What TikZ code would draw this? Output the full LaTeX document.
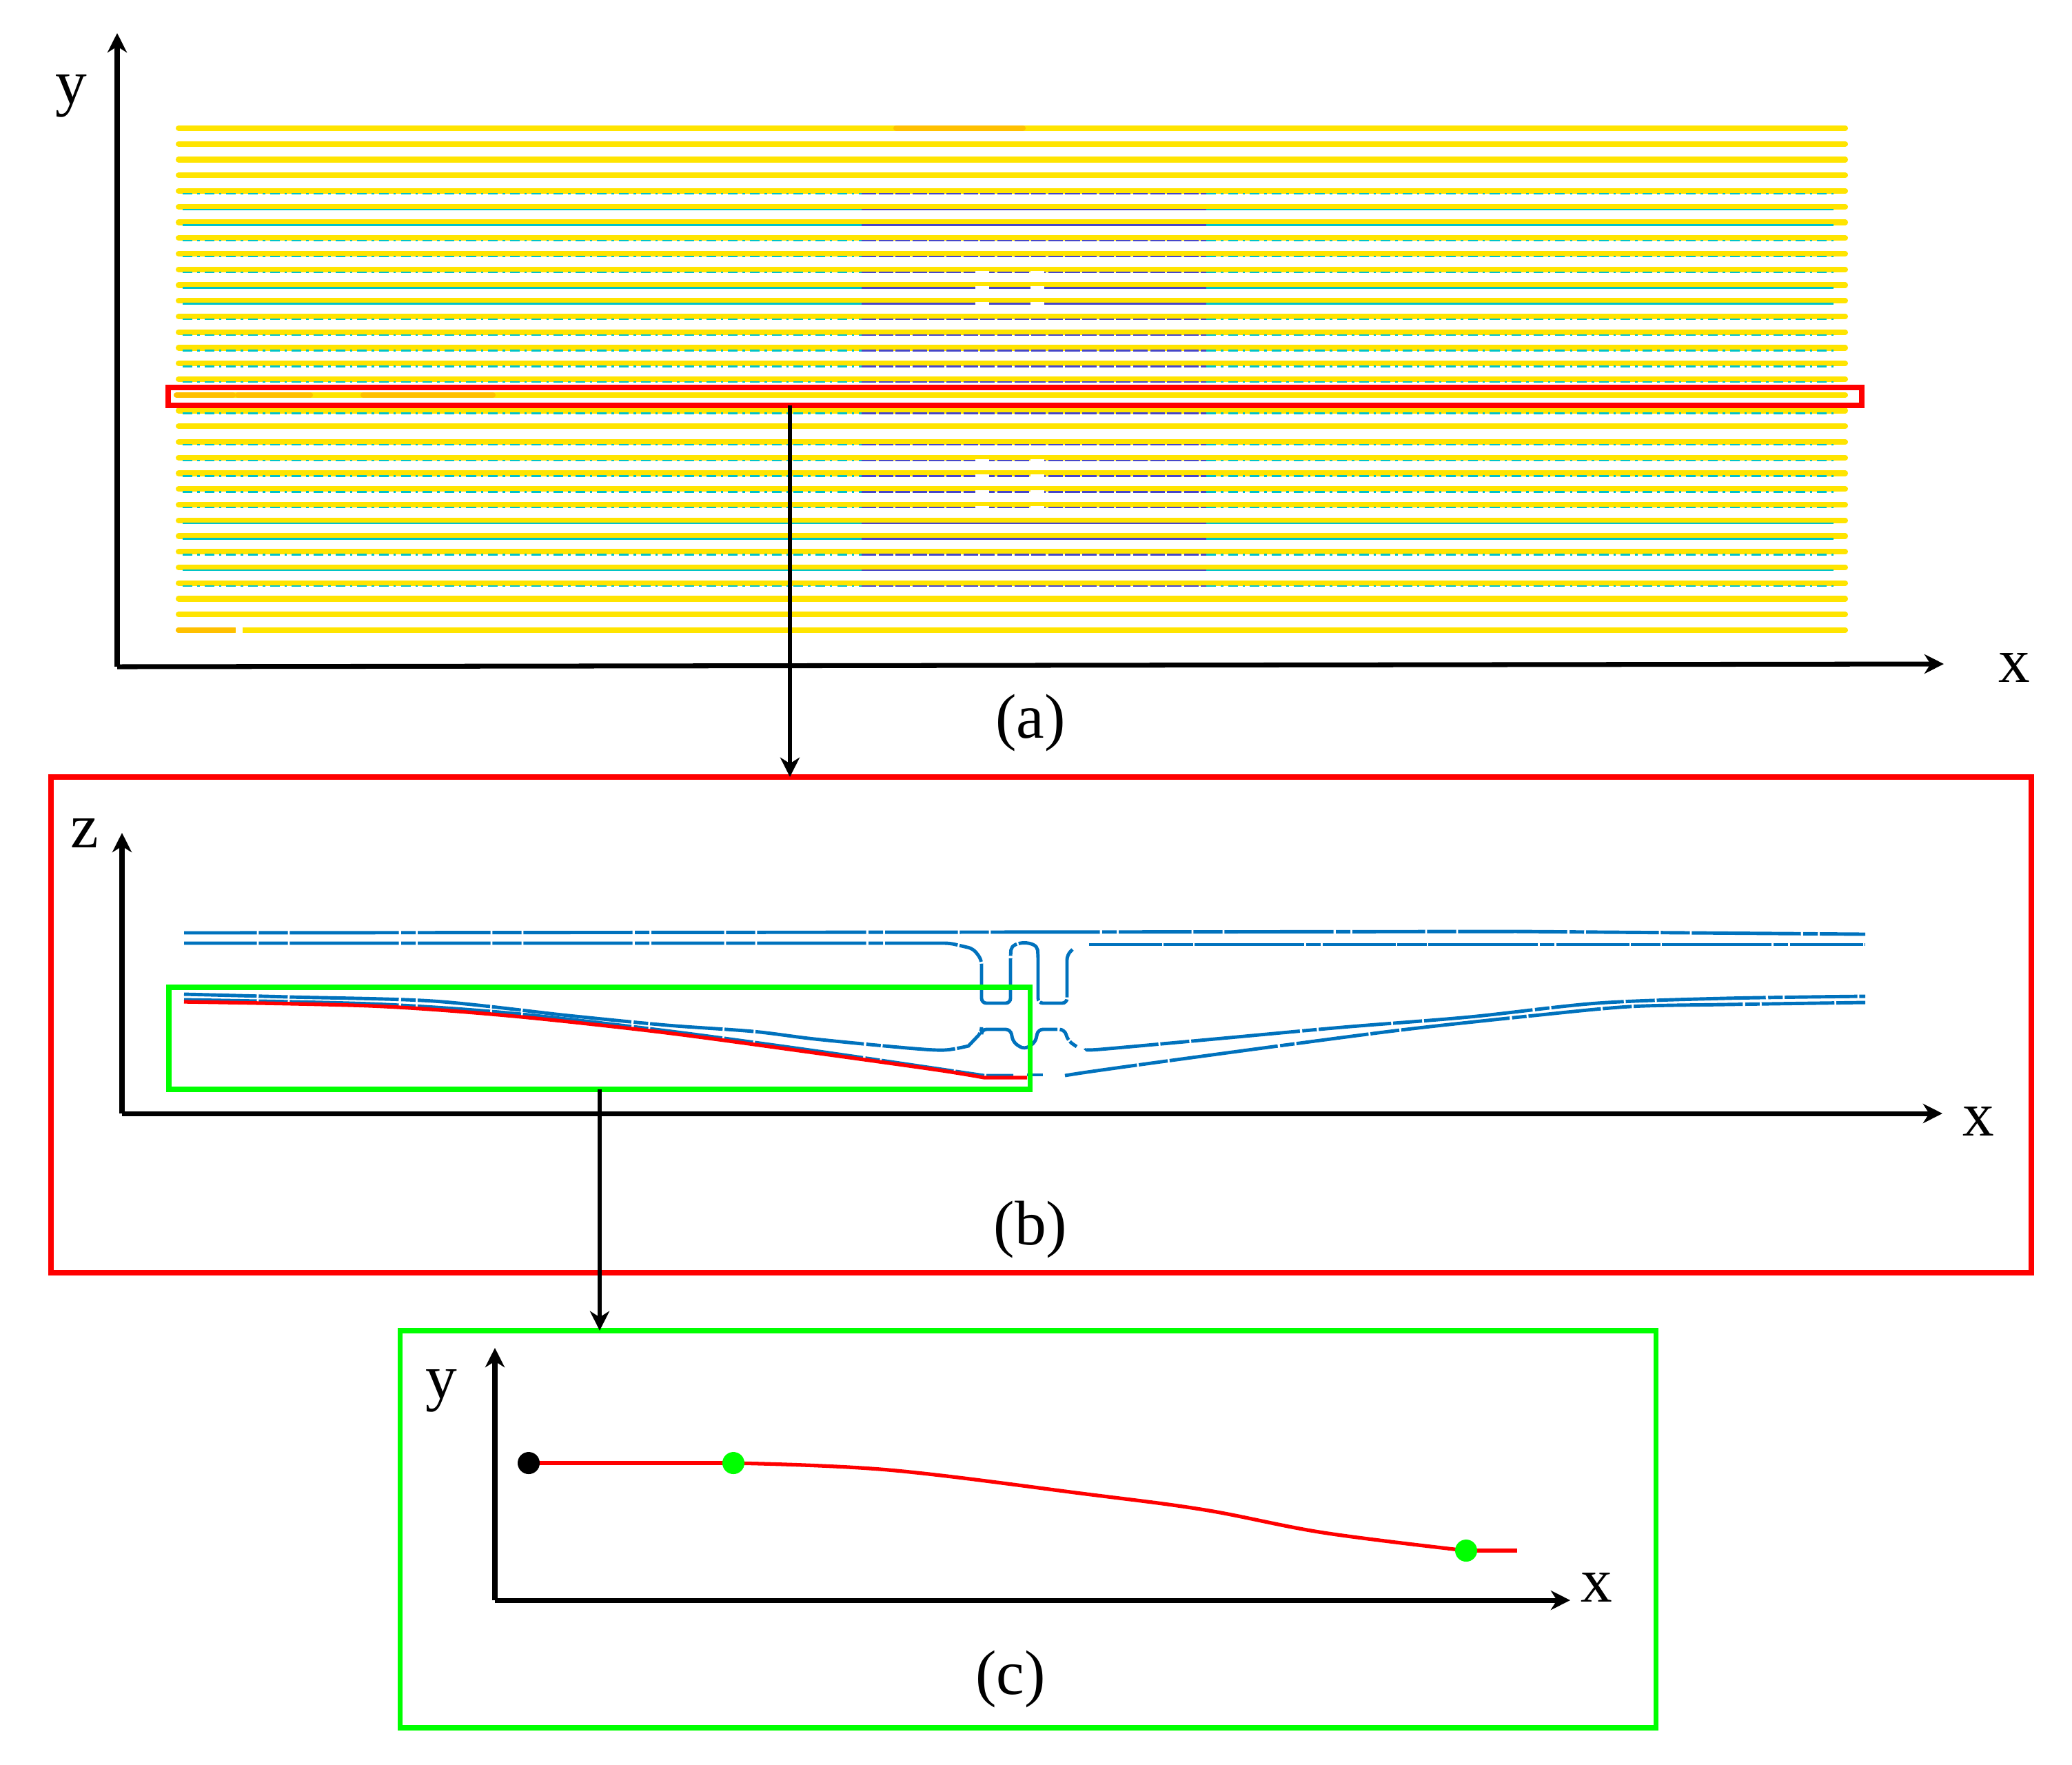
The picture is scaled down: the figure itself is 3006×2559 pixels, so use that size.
\documentclass[tikz,border=0pt]{standalone}
\usepackage{fontspec}
\setmainfont{Liberation Serif}
\usetikzlibrary{arrows.meta}

\definecolor{stripeyellow}{RGB}{255,228,0}
\definecolor{stripeorange}{RGB}{255,192,0}
\definecolor{scancyan}{RGB}{0,196,200}
\definecolor{scanblue}{RGB}{70,70,200}
\definecolor{profileblue}{RGB}{0,114,189}
\definecolor{boxred}{RGB}{255,0,0}
\definecolor{boxgreen}{RGB}{0,255,0}

\tikzset{
  axis/.style={line width=2pt, -{Stealth[length=8pt, width=8pt, inset=2.5pt]}},
  link/.style={line width=1.5pt, -{Stealth[length=8pt, width=8pt, inset=2.5pt]}},
  lbl/.style={font=\fontsize{26}{30}\selectfont, inner sep=0pt},
  frame/.style={draw=#1, line width=2.2pt, inner sep=0pt, outer sep=0pt},
  stripe/.style={stripeyellow, line width=2.3pt, line cap=round},
  scanline/.style={line width=0.7pt},
  profile/.style={profileblue, line width=1.4pt,
    dash pattern=on 30pt off 0.8pt on 12pt off 0.8pt on 45pt off 1pt on 6pt off 0.8pt},
  cut/.style={boxred, line width=1.5pt},
  dot/.style={circle, inner sep=0pt, minimum size=0.32cm}
}

\begin{document}
\begin{tikzpicture}[x=0.01cm, y=-0.01cm]
  \useasboundingbox (0,0) rectangle (3006,2559);

  % -- (a) scan stripes --
  \foreach \k in {0,...,32}
    \draw[stripe] (259,{186+22.75*\k}) -- (2677,{186+22.75*\k});
  \draw[stripe, stripeorange] (1300,186) -- (1484,186);
  \draw[stripe, stripeorange] (256,573) -- (338,573);
  \draw[stripe, stripeorange] (345,573) -- (450,573);
  \draw[stripe, stripeorange] (527,573) -- (715,573);
  \draw[stripe, stripeorange] (259,914) -- (340,914);
  \draw[white, line width=2.8pt] (342,914) -- (352,914);

  % -- scan lines under the stripes --
  \foreach \k in {5,6,10,11,25,26,28} {
    \draw[scanline, scancyan] (265,{190+22.75*\k}) -- (1250,{190+22.75*\k});
    \draw[scanline, scanblue] (1250,{190+22.75*\k}) -- (1750,{190+22.75*\k});
    \draw[scanline, scancyan] (1750,{190+22.75*\k}) -- (2660,{190+22.75*\k});
  }
  \foreach \k in {4,7,8,9,12,13,14,15,16,18,20,21,22,23,24,27,29} {
    \draw[scanline, scancyan, dash pattern=on 4pt off 2pt on 1pt off 2pt]
      (265,{190+22.75*\k}) -- (1250,{190+22.75*\k});
    \draw[scanline, scanblue, dash pattern=on 6pt off 1pt]
      (1250,{190+22.75*\k}) -- (1750,{190+22.75*\k});
    \draw[scanline, scancyan, dash pattern=on 4pt off 2pt on 1pt off 2pt]
      (1750,{190+22.75*\k}) -- (2660,{190+22.75*\k});
  }
  \foreach \k in {9,10,11,21,22,23,24} {
    \draw[white, line width=1.2pt] (1415,{190+22.75*\k}) -- (1435,{190+22.75*\k});
    \draw[white, line width=1.2pt] (1495,{190+22.75*\k}) -- (1515,{190+22.75*\k});
  }

  % -- selected stripe --
  \node[frame=boxred, minimum width=24.55cm, minimum height=0.26cm] (strip) at (1472.5,575) {};

  % -- (a) axes --
  \coordinate (oa) at (170,967);
  \coordinate (ya) at (170,48);
  \coordinate (xa) at (2820,963);
  \draw[axis] (oa) -- (ya);
  \draw[axis] (oa) -- (xa);
  \node[lbl] (ya lbl) at (103,139) {y};
  \node[lbl] (xa lbl) at (2922,968) {x};
  \node[lbl] (capa) at (1495,1048) {(a)};

  % -- (b) profile panel --
  \node[frame=boxred, minimum width=28.71cm, minimum height=7.19cm] (panelb) at (1510.5,1486.5) {};
  \coordinate (cuta) at (1146,0);
  \draw[link] (strip.south -| cuta) -- (panelb.north -| cuta);

  \coordinate (ob) at (177,1615);
  \coordinate (zb) at (177,1208);
  \coordinate (xb) at (2818,1615);
  \draw[axis] (ob) -- (zb);
  \draw[axis] (ob) -- (xb);
  \node[lbl] (zb lbl) at (123,1208) {z};
  \node[lbl] (xb lbl) at (2870,1626) {x};
  \node[lbl] (capb) at (1495,1783) {(b)};

  % -- upper surface --
  \draw[profile] (267,1353) -- (1400,1352) -- (2200,1351) -- (2706,1355);
  \draw[profile, rounded corners=2pt] (267,1368) -- (1378,1368) -- (1412,1376) -- (1424,1392)
    -- (1424,1455) -- (1466,1455) -- (1466,1385)
    .. controls (1468,1364) and (1504,1364) .. (1506,1385)
    -- (1506,1455) -- (1548,1455) -- (1548,1385) -- (1556,1377);
  \draw[profile] (1580,1370) -- (2706,1370);

  % -- lower surface --
  \draw[profile] plot[smooth, tension=0.5] coordinates {(267,1442) (420,1446) (629,1452)
      (825,1473) (968,1487) (1093,1496) (1182,1507) (1316,1520) (1370,1523) (1405,1517)}
    [rounded corners=2pt] -- (1424,1497) -- (1424,1493) -- (1466,1493) -- (1470,1512)
    -- (1486,1522) -- (1502,1512) -- (1506,1493) -- (1544,1493) -- (1550,1510) -- (1562,1518);
  \draw[profile] plot[smooth, tension=0.5] coordinates {(1577,1522) (1596,1522) (1762,1507)
      (1947,1490) (2132,1475) (2317,1455) (2502,1448) (2706,1445)};
  \draw[profile] plot[smooth, tension=0.5] coordinates {(267,1450) (539,1456) (736,1469)
      (959,1494) (1182,1524) (1428,1560)} -- (1470,1560);
  \draw[profile] (1490,1559) -- (1513,1559);
  \draw[profile] plot[smooth, tension=0.5] coordinates {(1545,1560) (1577,1555) (1670,1542)
      (1855,1517) (2040,1493) (2225,1473) (2364,1460) (2502,1457) (2706,1454)};

  % -- fitted cut line --
  \draw[cut] plot[smooth, tension=0.5] coordinates {(267,1453) (539,1459) (736,1473)
      (959,1497) (1182,1527) (1361,1552) (1428,1563)} -- (1490,1563);

  \node[frame=boxgreen, minimum width=12.49cm, minimum height=1.48cm] (zoomb) at (869.5,1506) {};

  % -- (c) simplified line --
  \node[frame=boxgreen, minimum width=18.21cm, minimum height=5.76cm] (panelc) at (1491.5,2218) {};
  \coordinate (cutb) at (870,0);
  \draw[link] (zoomb.south -| cutb) -- (panelc.north -| cutb);

  \coordinate (oc) at (718,2321);
  \coordinate (yc) at (718,1955);
  \coordinate (xc) at (2278,2321);
  \draw[axis] (oc) -- (yc);
  \draw[axis] (oc) -- (xc);
  \node[lbl] (yc lbl) at (640,2017) {y};
  \node[lbl] (xc lbl) at (2316,2302) {x};
  \node[lbl] (capc) at (1466,2435) {(c)};

  \coordinate (p0) at (767,2122);
  \coordinate (p1) at (1064,2122);
  \coordinate (p2) at (2127,2249);
  \coordinate (tail) at (2201,2249);
  \draw[cut] (p0) -- (p1);
  \draw[cut] plot[smooth, tension=0.6] coordinates {(1064,2122) (1289,2132) (1576,2167)
      (1748,2190) (1920,2223) (2127,2249)};
  \draw[cut] (p2) -- (tail);
  \node[dot, fill=black] (start) at (p0) {};
  \node[dot, fill=boxgreen] (knee) at (p1) {};
  \node[dot, fill=boxgreen] (toe) at (p2) {};

\end{tikzpicture}
\end{document}
